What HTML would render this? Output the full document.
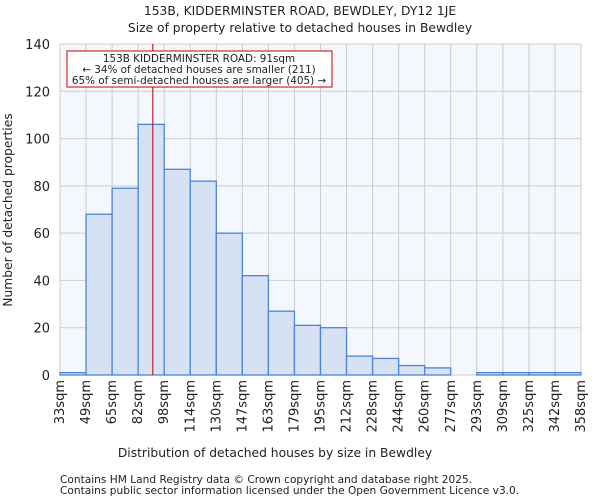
<!DOCTYPE html>
<html><head><meta charset="utf-8"><style>
body{margin:0;background:#fff;font-family:"DejaVu Sans","Liberation Sans",sans-serif;}
svg text{font-family:"DejaVu Sans","Liberation Sans",sans-serif;fill:#222;}
</style></head><body>
<svg id="c" width="600" height="500">
<text x="300" y="15" font-size="12.3" text-anchor="middle">153B, KIDDERMINSTER ROAD, BEWDLEY, DY12 1JE</text>
<text x="300" y="32" font-size="12.3" text-anchor="middle">Size of property relative to detached houses in Bewdley</text>
<text x="275" y="457" font-size="12.3" text-anchor="middle">Distribution of detached houses by size in Bewdley</text>
<text transform="translate(12,210) rotate(-90)" font-size="12.3" text-anchor="middle">Number of detached properties</text>
<text x="60" y="483" font-size="10.6">Contains HM Land Registry data © Crown copyright and database right 2025.</text>
<text x="60" y="494" font-size="10.6">Contains public sector information licensed under the Open Government Licence v3.0.</text>
</svg>
<script>
const categories=["33sqm","49sqm","65sqm","82sqm","98sqm","114sqm","130sqm","147sqm","163sqm","179sqm","195sqm","212sqm","228sqm","244sqm","260sqm","277sqm","293sqm","309sqm","325sqm","342sqm","358sqm"];
const counts=[1,68,79,106,87,82,60,42,27,21,20,8,7,4,3,0,1,1,1,1];
const yTicks=[0,20,40,60,80,100,120,140];
const propertySize=91;
const binEdges=[33,49,65,82,98,114,130,147,163,179,195,212,228,244,260,277,293,309,325,342,358];
const NS="http://www.w3.org/2000/svg";
const svg=document.getElementById('c');
const L=60,R=581,T=44,B=375,yMax=140;
const bw=(R-L)/counts.length;
const xs=i=>L+i*bw;
const ys=v=>B-(v/yMax)*(B-T);
function mk(t,a){const e=document.createElementNS(NS,t);for(const k in a)e.setAttribute(k,a[k]);svg.appendChild(e);return e;}
const bg=mk('rect',{x:L,y:T,width:R-L,height:B-T,fill:'#f4f7fd'});


yTicks.forEach(v=>{const g=mk('line',{x1:L,x2:R,y1:ys(v),y2:ys(v),stroke:'#ccc','stroke-width':1});

});
for(let i=0;i<=counts.length;i++){const g=mk('line',{x1:xs(i),x2:xs(i),y1:T,y2:B,stroke:'#ccc','stroke-width':1});

}
counts.forEach((c,i)=>{if(c<=0)return;const r=mk('rect',{x:xs(i),y:ys(c),width:bw,height:B-ys(c),fill:'#d6e1f3',stroke:'#4a86d4','stroke-width':1.3});

});
yTicks.forEach(v=>{const t=mk('text',{x:L-10,y:ys(v)+5,'font-size':13,'text-anchor':'end'});t.textContent=v;

});
categories.forEach((c,i)=>{const x=xs(i)+4;const t=mk('text',{transform:`translate(${x},380) rotate(-90)`,'font-size':13,'text-anchor':'end'});t.textContent=c;

});
let bi=0;while(bi<binEdges.length-2&&propertySize>=binEdges[bi+1])bi++;
const px=xs(bi)+bw*(propertySize-binEdges[bi])/(binEdges[bi+1]-binEdges[bi]);
const ml=mk('line',{x1:px,x2:px,y1:T,y2:B,stroke:'#b00','stroke-width':1});


const box=mk('rect',{x:67,y:51,width:265,height:36,fill:'#fff',stroke:'#c00','stroke-width':1});


["153B KIDDERMINSTER ROAD: 91sqm","← 34% of detached houses are smaller (211)","65% of semi-detached houses are larger (405) →"].forEach((s,k)=>{const t=mk('text',{x:199,y:62+k*11,'font-size':10.4,'text-anchor':'middle'});t.textContent=s;

});
</script>
</body></html>
